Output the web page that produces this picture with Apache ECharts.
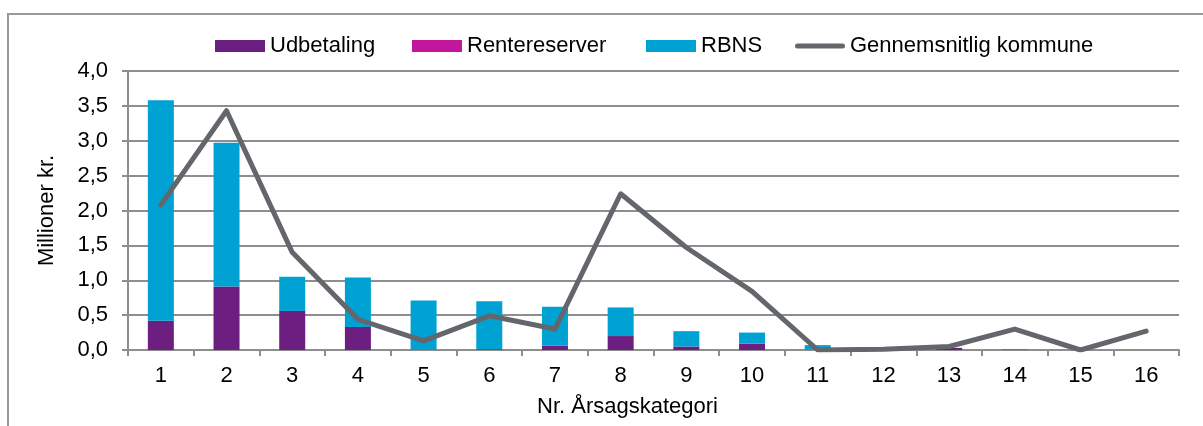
<!DOCTYPE html>
<html>
<head>
<meta charset="utf-8">
<script src="https://cdn.jsdelivr.net/npm/echarts@6/dist/echarts.min.js"></script>
<style>
  html, body { margin: 0; padding: 0; background: #fff; }
  #chart { width: 1203px; height: 426px; }
</style>
</head>
<body>
<div id="chart"></div>
<script>
// kategorier og værdier (mio. kr.)
const categories = ['1', '2', '3', '4', '5', '6', '7', '8', '9', '10', '11', '12', '13', '14', '15', '16'];
const udbetaling = [0.42, 0.91, 0.56, 0.33, 0.00, 0.01, 0.06, 0.20, 0.05, 0.09, 0.00, 0.00, 0.03, 0.005, 0.00, 0.00];
const rentereserver = [0, 0, 0, 0, 0, 0, 0, 0, 0, 0, 0, 0, 0, 0, 0, 0];
const rbns = [3.16, 2.06, 0.49, 0.71, 0.71, 0.69, 0.56, 0.41, 0.22, 0.16, 0.07, 0.00, 0.00, 0.00, 0.00, 0.00];
const gennemsnit = [2.08, 3.43, 1.40, 0.44, 0.13, 0.49, 0.30, 2.24, 1.47, 0.84, 0.00, 0.01, 0.05, 0.30, 0.00, 0.27];

const font = 'Liberation Sans, Arial, sans-serif';
const fs = 22;
const gridColor = '#8e8e8e';
const lineIcon = 'path://M2.5,0 L47.5,0 A2.5,2.5 0 0 1 47.5,5 L2.5,5 A2.5,2.5 0 0 1 2.5,0 Z';

// én legend pr. element, så placeringen følger originalen
function legendItem(name, left, icon) {
    return {
        left: left,
        top: 30,
        itemWidth: 50,
        itemHeight: 12,
        textStyle: { fontSize: fs, fontFamily: font, color: '#000' },
        data: [{ name: name, icon: icon }]
    };
}

const chart = echarts.init(document.getElementById('chart'));
chart.setOption({
    backgroundColor: '#fff',
    animation: false,
    textStyle: { fontFamily: font, color: '#000' },
    graphic: [{
        type: 'rect',
        shape: { x: 8, y: 14, width: 1400, height: 600 },
        style: { fill: 'none', stroke: '#9a9a9a', lineWidth: 2 },
        silent: true
    }],
    legend: [
        legendItem('Udbetaling', 210, 'rect'),
        legendItem('Rentereserver', 407, 'rect'),
        legendItem('RBNS', 641, 'rect'),
        legendItem('Gennemsnitlig kommune', 790, lineIcon)
    ],
    grid: { left: 128, right: 24, top: 71, bottom: 76 },
    xAxis: {
        type: 'category',
        data: categories,
        name: 'Nr. Årsagskategori',
        nameLocation: 'middle',
        nameGap: 46,
        nameTextStyle: { fontSize: fs, color: '#000', padding: [0, 52, 0, 0] },
        axisLine: { lineStyle: { color: gridColor, width: 2 } },
        axisTick: { show: true, length: 6, lineStyle: { color: gridColor, width: 2 } },
        axisLabel: { fontSize: fs, color: '#000', margin: 15 }
    },
    yAxis: {
        type: 'value',
        min: 0,
        max: 4,
        interval: 0.5,
        name: 'Millioner kr.',
        nameLocation: 'middle',
        nameGap: 70,
        nameTextStyle: { fontSize: fs, color: '#000' },
        axisLine: { show: true, lineStyle: { color: gridColor, width: 2 } },
        axisTick: { show: true, length: 6, lineStyle: { color: gridColor, width: 2 } },
        axisLabel: {
            fontSize: fs,
            color: '#000',
            margin: 20,
            formatter: v => v.toFixed(1).replace('.', ',')
        },
        splitLine: { lineStyle: { color: gridColor, width: 2 } }
    },
    series: [
        {
            name: 'Udbetaling',
            type: 'bar',
            stack: 'total',
            barWidth: 26,
            data: udbetaling,
            itemStyle: { color: '#6c1f80' }
        },
        {
            name: 'Rentereserver',
            type: 'bar',
            stack: 'total',
            barWidth: 26,
            data: rentereserver,
            itemStyle: { color: '#c2169c' }
        },
        {
            name: 'RBNS',
            type: 'bar',
            stack: 'total',
            barWidth: 26,
            data: rbns,
            itemStyle: { color: '#00a2d3' }
        },
        {
            name: 'Gennemsnitlig kommune',
            type: 'line',
            data: gennemsnit,
            symbol: 'none',
            z: 5,
            lineStyle: { color: '#63666a', width: 5, cap: 'round', join: 'round' },
            itemStyle: { color: '#63666a' }
        }
    ]
});
</script>
</body>
</html>
